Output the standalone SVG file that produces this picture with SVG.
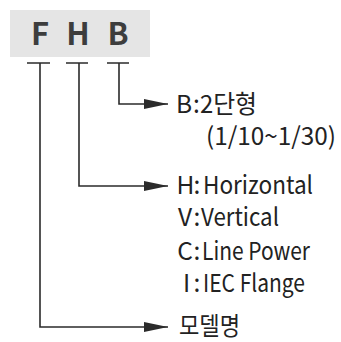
<svg xmlns="http://www.w3.org/2000/svg" width="341" height="342" viewBox="0 0 341 342">
  <style>
    .code { font-family: "Noto Sans CJK KR", "Noto Sans", sans-serif; font-weight: bold; font-size: 31px; fill: #3d3d3d; text-anchor: middle; }
    .lbl { font-family: "Noto Sans CJK KR", "Noto Sans", sans-serif; font-weight: normal; font-size: 24.5px; fill: #222222; }
    .key { text-anchor: middle; }
    .wire { fill: none; stroke: #2b2b2b; stroke-width: 1.6; }
  </style>
  <defs>
    <marker id="arrow" markerUnits="userSpaceOnUse" markerWidth="26" markerHeight="12" refX="24" refY="6" orient="auto">
      <path d="M0,1 L24,6 L0,11 z" fill="#2b2b2b"/>
    </marker>
  </defs>
  <rect width="341" height="342" fill="#ffffff"/>

  <g id="model-code">
    <rect x="10" y="10" width="140" height="47" fill="#e5e5e5"/>
    <text class="code" x="40" y="45">F</text>
    <text class="code" x="78" y="45">H</text>
    <text class="code" x="118" y="45">B</text>
  </g>

  <g id="connectors">
    <path class="wire" d="M27,63 H50 M66,63 H88 M107,63 H129"/>
    <path class="wire" d="M119,63 V104 H168" marker-end="url(#arrow)"/>
    <path class="wire" d="M79,63 V186 H168" marker-end="url(#arrow)"/>
    <path class="wire" d="M40,63 V327 H168" marker-end="url(#arrow)"/>
  </g>

  <g id="label-B">
    <text class="lbl" y="113"><tspan class="key" x="184">B</tspan><tspan x="193">:</tspan><tspan x="200" textLength="57" lengthAdjust="spacingAndGlyphs">2단형</tspan></text>
    <text class="lbl" x="206" y="145" textLength="130" lengthAdjust="spacingAndGlyphs">(1/10~1/30)</text>
  </g>

  <g id="label-H">
    <text class="lbl" y="194"><tspan class="key" x="185.5">H</tspan><tspan x="193.5">:</tspan><tspan x="203" textLength="110" lengthAdjust="spacingAndGlyphs">Horizontal</tspan></text>
    <text class="lbl" y="226"><tspan class="key" x="185">V</tspan><tspan x="193.5">:</tspan><tspan x="201" textLength="78" lengthAdjust="spacingAndGlyphs">Vertical</tspan></text>
    <text class="lbl" y="260"><tspan class="key" x="185">C</tspan><tspan x="193.5">:</tspan><tspan x="202" textLength="108" lengthAdjust="spacingAndGlyphs">Line Power</tspan></text>
    <text class="lbl" y="292"><tspan class="key" x="186.5">I</tspan><tspan x="193.5">:</tspan><tspan x="203" textLength="102" lengthAdjust="spacingAndGlyphs">IEC Flange</tspan></text>
  </g>

  <g id="label-F">
    <text class="lbl" x="179" y="335" textLength="61" lengthAdjust="spacingAndGlyphs">모델명</text>
  </g>
</svg>
